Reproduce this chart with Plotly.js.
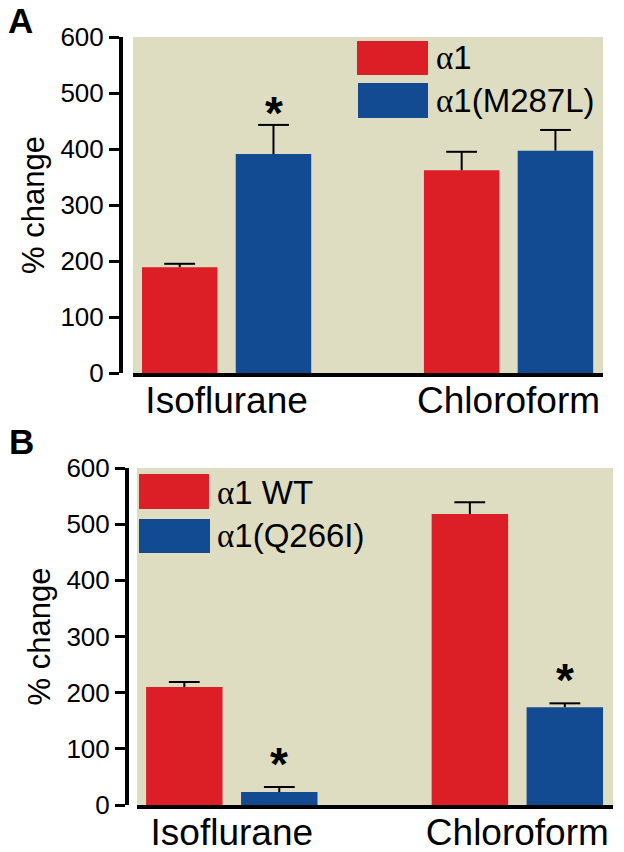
<!DOCTYPE html>
<html>
<head>
<meta charset="utf-8">
<script src="https://cdn.plot.ly/plotly-3.0.1.min.js"></script>
<style>html,body{margin:0;padding:0;background:#fff;}#chart{width:624px;height:852px;}</style>
</head>
<body>
<div id="chart"></div>
<script>
// ---- data ----
const categories = ['Isoflurane', 'Chloroform'];
const catIndex = [0, 1];
const yTicks = [0, 100, 200, 300, 400, 500, 600];

// Panel A
const namesA = ['α1', 'α1(M287L)'];
const a_alpha1 = [189, 362];
const a_alpha1Err = [6, 33];
const a_m287l = [391, 397];
const a_m287lErr = [52, 37];
const a_sigAlpha1 = [false, false];
const a_sigM287l = [true, false];

// Panel B
const namesB = ['α1 WT', 'α1(Q266I)'];
const b_wt = [210, 518];
const b_wtErr = [9, 21];
const b_q266i = [23, 174];
const b_q266iErr = [9, 7];
const b_sigWt = [false, false];
const b_sigQ266i = [true, true];

const panelLabels = ['A', 'B'];
const yTitle = '% change';

// ---- style ----
const RED = '#dc1e27';
const BLUE = '#134b93';
const BG = '#dedcc1';
const FONT = 'Liberation Sans, Arial, sans-serif';
const W = 624, H = 852;
const px = v => v / W;
const py = v => 1 - v / H;
const slot = 0.1665; // half group offset in category units

function barTrace(y, err, color, xa, ya, name) {
  return {
    type: 'bar', x: catIndex, y: y, name: name, xaxis: xa, yaxis: ya,
    marker: {color: color, line: {width: 0}},
    error_y: {type: 'data', array: err, arrayminus: err.map(() => 0), symmetric: false,
              color: '#000', thickness: 2, width: 0},
    showlegend: false, hoverinfo: 'skip'
  };
}
function capTrace(y, err, side, xa, ya) {
  return {
    type: 'scatter', mode: 'markers', xaxis: xa, yaxis: ya,
    x: catIndex.map(i => i + side * slot), y: y.map((v, i) => v + err[i]),
    marker: {symbol: 'line-ew', size: 22, color: '#000', line: {width: 2, color: '#000'}},
    cliponaxis: false, showlegend: false, hoverinfo: 'skip'
  };
}

const traces = [
  barTrace(a_alpha1, a_alpha1Err, RED, 'x', 'y', namesA[0]),
  barTrace(a_m287l, a_m287lErr, BLUE, 'x', 'y', namesA[1]),
  barTrace(b_wt, b_wtErr, RED, 'x2', 'y2', namesB[0]),
  barTrace(b_q266i, b_q266iErr, BLUE, 'x2', 'y2', namesB[1]),
  capTrace(a_alpha1, a_alpha1Err, -1, 'x', 'y'),
  capTrace(a_m287l, a_m287lErr, 1, 'x', 'y'),
  capTrace(b_wt, b_wtErr, -1, 'x2', 'y2'),
  capTrace(b_q266i, b_q266iErr, 1, 'x2', 'y2')
];

function stars(vals, errs, sig, xref, yref, side, shift) {
  const out = [];
  sig.forEach((s, i) => {
    if (!s) return;
    out.push({
      xref: xref, yref: yref, x: catIndex[i] + side * slot, y: vals[i] + errs[i],
      text: '<b>*</b>', showarrow: false, yanchor: 'bottom', yshift: shift,
      font: {family: FONT, size: 46, color: '#000'}
    });
  });
  return out;
}

function alphaText(s) {
  return s.replace('α', '<span style="font-family:\'Liberation Serif\', serif">α</span>');
}

const annotations = [
  {xref: 'paper', yref: 'paper', x: px(20), y: py(21), text: '<b>' + panelLabels[0] + '</b>',
   showarrow: false, font: {family: FONT, size: 35, color: '#000'}, xanchor: 'center', yanchor: 'middle'},
  {xref: 'paper', yref: 'paper', x: px(21), y: py(441), text: '<b>' + panelLabels[1] + '</b>',
   showarrow: false, font: {family: FONT, size: 35, color: '#000'}, xanchor: 'center', yanchor: 'middle'},
  // legend A
  {xref: 'paper', yref: 'paper', x: px(434), y: py(58), text: alphaText(namesA[0]), showarrow: false,
   xanchor: 'left', yanchor: 'middle', font: {family: FONT, size: 33, color: '#000'}},
  {xref: 'paper', yref: 'paper', x: px(434), y: py(100), text: alphaText(namesA[1]), showarrow: false,
   xanchor: 'left', yanchor: 'middle', font: {family: FONT, size: 33, color: '#000'}},
  // legend B
  {xref: 'paper', yref: 'paper', x: px(215), y: py(492), text: alphaText(namesB[0]), showarrow: false,
   xanchor: 'left', yanchor: 'middle', font: {family: FONT, size: 33, color: '#000'}},
  {xref: 'paper', yref: 'paper', x: px(215), y: py(535), text: alphaText(namesB[1]), showarrow: false,
   xanchor: 'left', yanchor: 'middle', font: {family: FONT, size: 33, color: '#000'}}
].concat(
  stars(a_alpha1, a_alpha1Err, a_sigAlpha1, 'x', 'y', -1, -16),
  stars(a_m287l, a_m287lErr, a_sigM287l, 'x', 'y', 1, -16),
  stars(b_wt, b_wtErr, b_sigWt, 'x2', 'y2', -1, -5),
  stars(b_q266i, b_q266iErr, b_sigQ266i, 'x2', 'y2', 1, -5)
);

const shapes = [
  {type: 'rect', xref: 'paper', yref: 'paper', x0: px(357), x1: px(428), y0: py(75), y1: py(41),
   fillcolor: RED, line: {width: 0}},
  {type: 'rect', xref: 'paper', yref: 'paper', x0: px(358), x1: px(428), y0: py(118), y1: py(83),
   fillcolor: BLUE, line: {width: 0}},
  {type: 'rect', xref: 'paper', yref: 'paper', x0: px(139), x1: px(209), y0: py(509), y1: py(474),
   fillcolor: RED, line: {width: 0}},
  {type: 'rect', xref: 'paper', yref: 'paper', x0: px(139), x1: px(210), y0: py(553), y1: py(519),
   fillcolor: BLUE, line: {width: 0}}
];

function xAxis(domain, anchor) {
  return {
    domain: domain, anchor: anchor, type: 'linear', range: [-0.332, 1.335],
    tickvals: catIndex, ticktext: categories,
    showline: true, linewidth: 4, linecolor: '#000', ticks: '', showgrid: false, zeroline: false,
    tickfont: {family: FONT, size: 37, color: '#000'}, ticklabelstandoff: -8, fixedrange: true
  };
}
function yAxis(domain, pos) {
  return {
    domain: domain, anchor: 'free', position: pos, range: [0, 600], tickvals: yTicks,
    ticktext: yTicks.map(String),
    showline: true, linewidth: 4, linecolor: '#000', ticks: 'outside', ticklen: 10, tickwidth: 3,
    tickcolor: '#000', showgrid: false, zeroline: false,
    tickfont: {family: FONT, size: 26, color: '#000'},
    title: {text: yTitle, font: {family: FONT, size: 31, color: '#000'}, standoff: 6},
    fixedrange: true
  };
}

const layout = {
  width: W, height: H,
  margin: {l: 0, r: 0, t: 0, b: 0, pad: 0},
  paper_bgcolor: '#ffffff', plot_bgcolor: BG,
  barmode: 'group', bargap: 0.335, bargroupgap: 0.195,
  showlegend: false,
  xaxis: xAxis([px(133), px(603)], 'y'),
  yaxis: yAxis([py(373), py(37)], px(121)),
  xaxis2: xAxis([px(137), px(613)], 'y2'),
  yaxis2: yAxis([py(805), py(468)], px(127)),
  annotations: annotations,
  shapes: shapes,
  font: {family: FONT}
};

Plotly.newPlot('chart', traces, layout, {staticPlot: true, displayModeBar: false});
</script>
</body>
</html>
